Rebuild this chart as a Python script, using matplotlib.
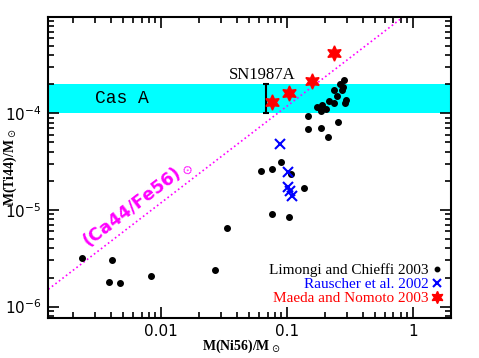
import matplotlib
matplotlib.use("Agg")
import matplotlib.pyplot as plt
import numpy as np

# Limongi and Chieffi 2003
lc_ni = [0.00237, 0.00407, 0.00385, 0.00474, 0.0083, 0.0270, 0.0334,
         0.0889, 0.0617, 0.0759, 0.107, 0.1375, 0.0759, 0.1028,
         0.286, 0.265, 0.281, 0.273, 0.236, 0.248, 0.217, 0.237, 0.292, 0.288,
         0.172, 0.189, 0.186, 0.204, 0.148, 0.146, 0.185, 0.255, 0.211]
lc_ti = [3.2e-6, 3.03e-6, 1.81e-6, 1.75e-6, 2.07e-6, 2.42e-6, 6.5e-6,
         3.16e-5, 2.55e-5, 2.64e-5, 2.34e-5, 1.69e-5, 9.05e-6, 8.55e-6,
         2.21e-4, 2.01e-4, 1.88e-4, 1.74e-4, 1.75e-4, 1.51e-4, 1.35e-4, 1.29e-4, 1.37e-4, 1.29e-4,
         1.17e-4, 1.23e-4, 1.07e-4, 1.11e-4, 9.5e-5, 6.93e-5, 7.1e-5, 8.1e-5, 5.73e-5]

# Rauscher et al. 2002
ra_ni = [0.088, 0.102, 0.102, 0.1047, 0.1097]
ra_ti = [4.82e-5, 2.49e-5, 1.72e-5, 1.58e-5, 1.40e-5]

# Maeda and Nomoto 2003
mn_ni = [0.0762, 0.104, 0.159, 0.2344]
mn_ti = [1.31e-4, 1.63e-4, 2.16e-4, 4.27e-4]

# Cas A band, SN1987A
casa_lo, casa_hi = 1e-4, 2e-4
sn_ni = 0.068
sn_lo, sn_hi = 1e-4, 2e-4

# solar Ca44/Fe56
ratio_sun = 1.19e-3

xmin, xmax = 0.00127, 2.0
ymin, ymax = 7.7e-7, 1e-3

fig = plt.figure(figsize=(4.79, 3.58), dpi=100)
ax = fig.add_axes([0.101, 0.113, 0.840, 0.840])
ax.set_xscale("log")
ax.set_yscale("log")
ax.set_xlim(xmin, xmax)
ax.set_ylim(ymin, ymax)

ax.axhspan(casa_lo, casa_hi, color="#00ffff", zorder=0, lw=0)
ax.text(0.0030, 1.42e-4, "Cas A", family="Liberation Mono", fontsize=13, va="center", ha="left")

xx = np.array([xmin, xmax])
ax.plot(xx, ratio_sun * xx, color="magenta", ls=":", lw=1.2)
ax.text(0.0065, 1.16e-5, r"(Ca44/Fe56)$_\odot$", color="magenta", fontsize=12.5, fontweight="bold",
        rotation=37.5, ha="center", va="center", rotation_mode="anchor")

ax.errorbar([sn_ni], [np.sqrt(sn_lo * sn_hi)],
            yerr=[[np.sqrt(sn_lo * sn_hi) - sn_lo], [sn_hi - np.sqrt(sn_lo * sn_hi)]],
            fmt="none", ecolor="black", elinewidth=1.5, capsize=2.5, capthick=1.5)
ax.text(0.063, 2.08e-4, "SN1987A", family="Liberation Serif", fontsize=12, ha="center", va="bottom")

ax.plot(lc_ni, lc_ti, "o", color="black", ms=4, ls="none", label="Limongi and Chieffi 2003")
ax.plot(ra_ni, ra_ti, "x", color="blue", ms=7, mew=1.5, ls="none", label="Rauscher et al. 2002")
ax.plot(mn_ni, mn_ti, marker=(6, 1, 0), color="red", ms=11, ls="none", label="Maeda and Nomoto 2003")

leg = ax.legend(loc="lower right", bbox_to_anchor=(0.989, 0.026), markerfirst=False, frameon=False,
                handlelength=0.6, handletextpad=0.25, labelspacing=0.02, borderaxespad=0.0,
                borderpad=0.3, markerscale=0.8, prop={"family": "Liberation Serif", "size": 11},
                labelcolor=["black", "blue", "red"])

ax.tick_params(which="both", direction="in", top=True, right=True, width=1.2)
ax.tick_params(which="major", length=8, labelsize=11, pad=5)
ax.tick_params(which="minor", length=4)
ax.set_xticks([0.01, 0.1, 1])
ax.set_xticklabels(["0.01", "0.1", "1"])
ax.set_yticks([1e-6, 1e-5, 1e-4])
for s in ax.spines.values():
    s.set_linewidth(1.5)

ax.set_xlabel(r"M(Ni56)/M$_\odot$", family="Liberation Serif", fontweight="bold", fontsize=10)
ax.set_ylabel(r"M(Ti44)/M$_\odot$", family="Liberation Serif", fontweight="bold", fontsize=10)
ax.xaxis.set_label_coords(0.48, -0.068)
ax.yaxis.set_label_coords(-0.072, 0.5)

fig.savefig("out.png", dpi=100)
